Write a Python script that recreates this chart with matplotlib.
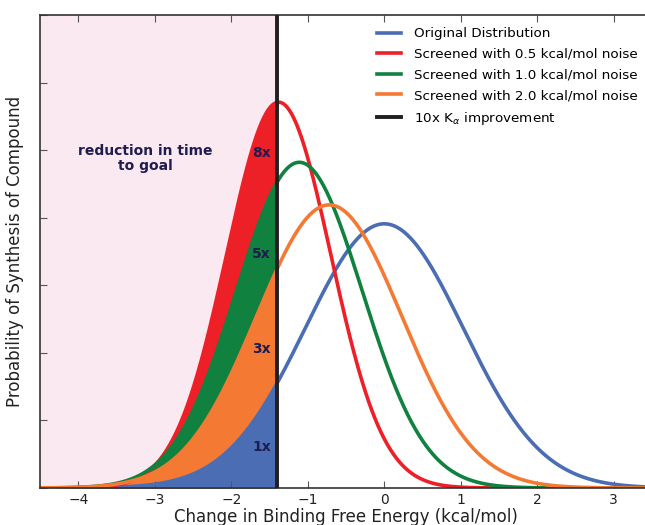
import numpy as np
import matplotlib
matplotlib.use("Agg")
import matplotlib.pyplot as plt

# -----------------
# Data
# -----------------

labels = ["Original Distribution",
          "Screened with 0.5 kcal/mol noise",
          "Screened with 1.0 kcal/mol noise",
          "Screened with 2.0 kcal/mol noise"]
colors = ["#4a6db3", "#ee2027", "#10813f", "#f47a33"]
means = [0.0, -1.38, -1.11, -0.72]
sds = [1.03, 0.68, 0.82, 0.95]
peaks = [0.391, 0.571, 0.482, 0.419]

kd_cut = -1.40          # 10x Kd improvement
fold_labels = ["8x", "5x", "3x", "1x"]
fold_y = [0.496, 0.347, 0.206, 0.061]

x = np.linspace(-4.5, 3.5, 800)
curves = [p * np.exp(-0.5 * ((x - m) / s) ** 2) for m, s, p in zip(means, sds, peaks)]

# -----------------
# Plot
# -----------------

fig = plt.figure(figsize=(6.45, 5.25), dpi=100)
ax = fig.add_axes([40 / 645, 1 - 488 / 525, (652 - 40) / 645, (488 - 15) / 525])

ax.axvspan(-4.5, kd_cut, color="#fbe9f1", zorder=0)

# filled areas left of the cut: red behind, blue in front
left = x <= kd_cut
xl = np.append(x[left], kd_cut)
for i in [1, 2, 3, 0]:
    yl = np.append(curves[i][left], peaks[i] * np.exp(-0.5 * ((kd_cut - means[i]) / sds[i]) ** 2))
    ax.fill_between(xl, 0, yl, color=colors[i], lw=0, zorder=1)

handles = []
for i in range(4):
    h, = ax.plot(x, curves[i], color=colors[i], lw=2.6, label=labels[i], zorder=2)
    handles.append(h)

vl = ax.axvline(kd_cut, color="#231f20", lw=2.8, zorder=3, label="10x K$_\\alpha$ improvement")
handles.append(vl)

for lab, yy in zip(fold_labels, fold_y):
    ax.text(-1.48, yy, lab, ha="right", va="center", fontsize=10,
            fontweight="bold", color="#1f1d4e", zorder=4)

ax.text(-3.12, 0.488, "reduction in time\nto goal", ha="center", va="center",
        fontsize=10, fontweight="bold", color="#1f1d4e", linespacing=1.12, zorder=4)

ax.set_xlim(-4.5, 3.5)
ax.set_ylim(0, 0.7)
ax.set_xticks([-4, -3, -2, -1, 0, 1, 2, 3])
ax.set_xticklabels(["\u22124", "\u22123", "\u22122", "\u22121", "0", "1", "2", "3"])
ax.set_yticks(np.arange(0, 0.71, 0.1))
ax.set_yticklabels([])
ax.tick_params(direction="in", top=True, right=False, length=5, labelsize=10,
               color="#555555", labelcolor="#222222")

for sp in ax.spines.values():
    sp.set_color("#333333")
    sp.set_linewidth(1.2)

ax.set_xlabel("Change in Binding Free Energy (kcal/mol)", fontsize=12, color="#222222", labelpad=1)
ax.set_ylabel("Probability of Synthesis of Compound", fontsize=12, color="#222222", labelpad=8)

ax.legend(handles=handles, loc="upper left", bbox_to_anchor=(372 / 645, 1 - 22 / 525),
          bbox_transform=fig.transFigure, frameon=False, fontsize=9.7,
          handlelength=1.75, handletextpad=1.0, labelspacing=0.56, borderaxespad=0)

fig.savefig("out.png", dpi=100)
